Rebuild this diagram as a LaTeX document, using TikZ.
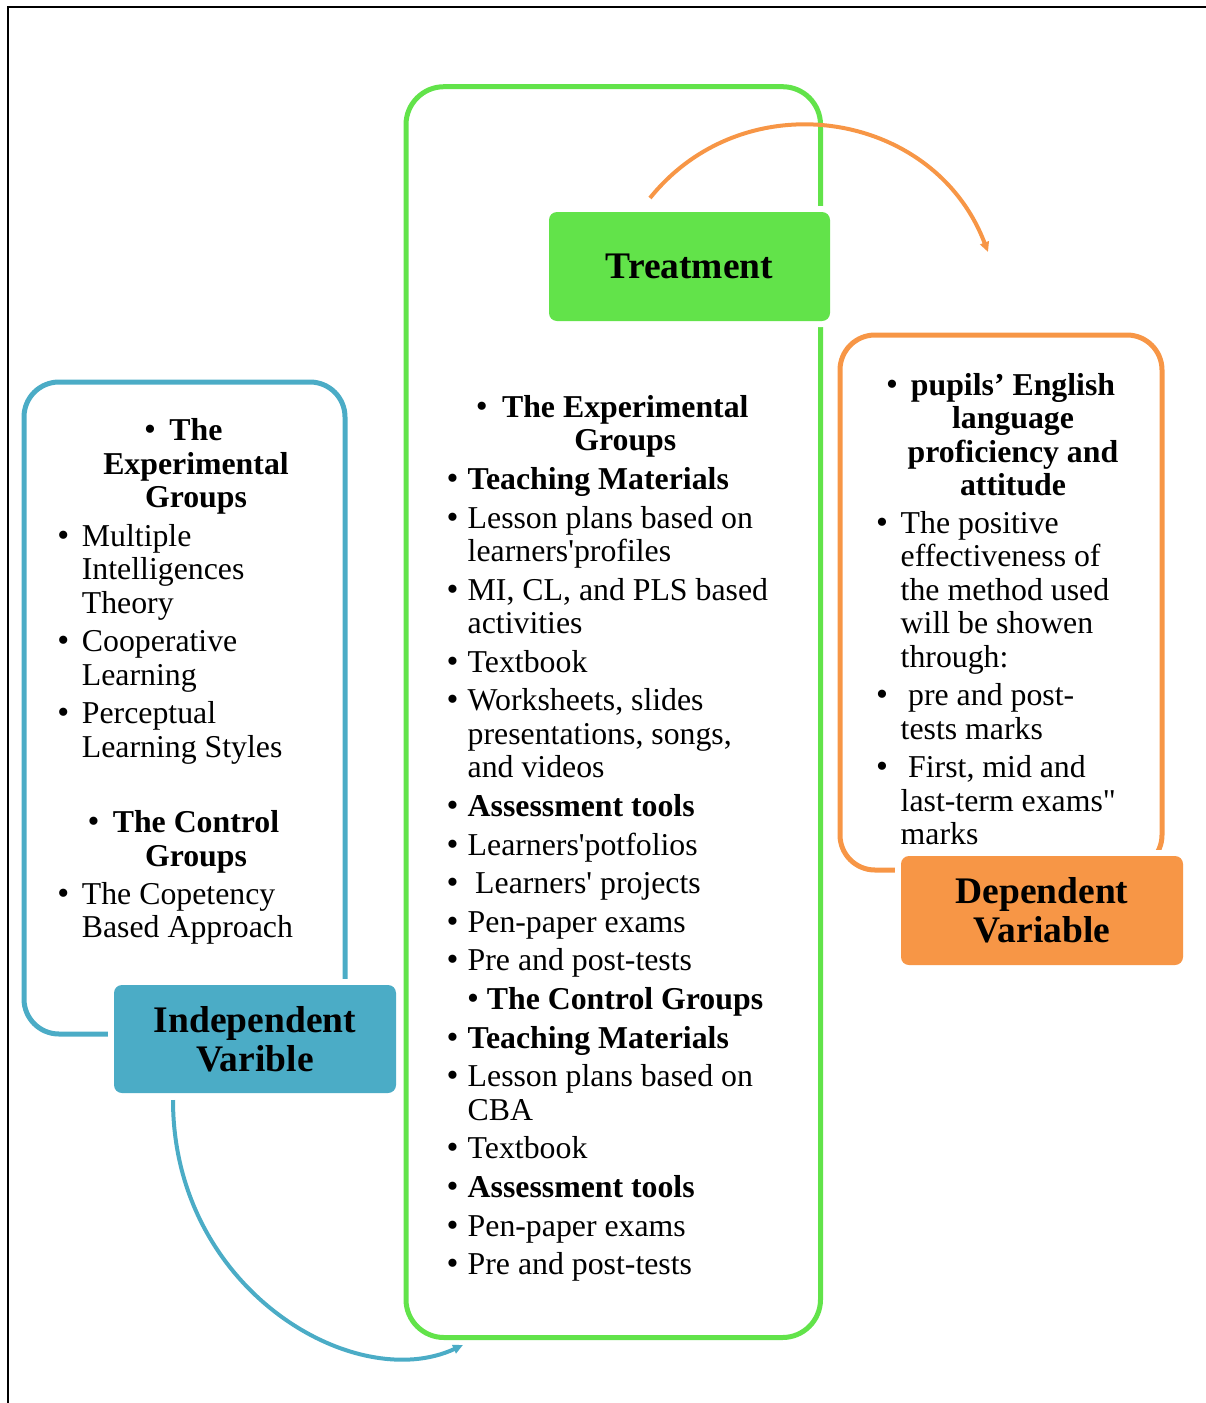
\documentclass[tikz,border=0pt]{standalone}
\usepackage{fontspec}
\setmainfont{Liberation Serif}
\usetikzlibrary{arrows.meta}

\definecolor{grn}{HTML}{62E34A}
\definecolor{blu}{HTML}{4BACC6}
\definecolor{org}{HTML}{F79646}

% left-aligned and centred line stacks; the baseline is that of the first line
\newcommand\rows[1]{\begin{tabular}[t]{@{}l@{}}#1\end{tabular}}
\newcommand\crows[1]{\begin{tabular}[t]{@{}c@{}}#1\end{tabular}}

\begin{document}
\begin{tikzpicture}[x=1pt,y=1pt,
  panel/.style={draw=#1, line width=5pt, inner sep=0pt, outer sep=0pt},
  lbl/.style={fill=#1, rounded corners=8pt, inner sep=0pt, align=center,
    font=\fontsize{37.5}{39}\selectfont\bfseries,
    preaction={draw=white, line width=12pt}},
  body/.style={anchor=base west, inner sep=0pt, font=\fontsize{31.8}{33.5}\selectfont},
  hd/.style={body, font=\fontsize{31.8}{33.5}\selectfont\bfseries},
  hdc/.style={anchor=base, inner sep=0pt, font=\fontsize{31.8}{33.5}\selectfont\bfseries},
  bul/.style={anchor=base, inner sep=0pt, font=\fontsize{34}{33.5}\selectfont},
  link/.style={draw=#1, line width=4pt, -{Triangle[length=10pt,width=9pt]}},
]
\useasboundingbox (0,0) rectangle (1206,-1403);

% page frame
\draw[line width=2pt] (1210,-6.7) -- (8,-6.7) -- (8,-1410);

% group panels
\node[panel=blu, rounded corners=35pt, minimum width=321pt, minimum height=652pt]
  (indep) at (184.5,-708) {};
\node[panel=grn, rounded corners=38pt, minimum width=414.5pt, minimum height=1250.8pt]
  (treat) at (613.25,-712.1) {};
\node[panel=org, rounded corners=35pt, minimum width=322pt, minimum height=535pt]
  (dep) at (1001,-602.5) {};

% title boxes
\node[lbl=grn, minimum width=281pt, minimum height=109pt] (tlab) at (689.5,-266.5) {Treatment};
\node[lbl=blu, minimum width=282pt, minimum height=108pt] (ilab) at (255,-1039) {Independent\\Varible};
\node[lbl=org, minimum width=282pt, minimum height=109pt] (dlab) at (1042,-910.5) {Dependent\\Variable};

% independent variable contents
\node[bul] (lb1) at (150,-440.5) {\textbullet};
\node[hdc] (l1) at (196,-440.5) {\crows{The\\Experimental\\Groups}};
\node[bul] (lb2) at (63.3,-546.1) {\textbullet};
\node[body] (l2) at (81.7,-546.1) {\rows{Multiple\\Intelligences\\Theory}};
\node[bul] (lb3) at (63.3,-651.7) {\textbullet};
\node[body] (l3) at (81.7,-651.7) {\rows{Cooperative\\Learning}};
\node[bul] (lb4) at (63.3,-723.8) {\textbullet};
\node[body] (l4) at (81.7,-723.8) {\rows{Perceptual\\Learning Styles}};
\node[bul] (lb5) at (93.5,-832.5) {\textbullet};
\node[hdc] (l5) at (196,-832.5) {\crows{The Control\\Groups}};
\node[bul] (lb6) at (63.3,-904.1) {\textbullet};
\node[body] (l6) at (81.7,-904.1) {\rows{The Copetency\\Based Approach}};

% treatment contents
\node[bul] (cb1) at (481.7,-417.4) {\textbullet};
\node[hdc] (c1) at (625.3,-417.4) {\crows{The Experimental\\Groups}};
\node[bul] (cb2) at (452.5,-489.5) {\textbullet};
\node[hd] (c2) at (467.5,-489.5) {Teaching Materials};
\node[bul] (cb3) at (452.5,-528.1) {\textbullet};
\node[body] (c3) at (467.5,-528.1) {\rows{Lesson plans based on\\learners\textquotesingle profiles}};
\node[bul] (cb4) at (452.5,-600.2) {\textbullet};
\node[body] (c4) at (467.5,-600.2) {\rows{MI, CL, and PLS based\\activities}};
\node[bul] (cb5) at (452.5,-672.3) {\textbullet};
\node[body] (c5) at (467.5,-672.3) {Textbook};
\node[bul] (cb6) at (452.5,-710.9) {\textbullet};
\node[body] (c6) at (467.5,-710.9) {\rows{Worksheets, slides\\presentations, songs,\\and videos}};
\node[bul] (cb7) at (452.5,-816.5) {\textbullet};
\node[hd] (c7) at (467.5,-816.5) {Assessment tools};
\node[bul] (cb8) at (452.5,-855.1) {\textbullet};
\node[body] (c8) at (467.5,-855.1) {Learners\textquotesingle potfolios};
\node[bul] (cb9) at (452.5,-893.7) {\textbullet};
\node[body] (c9) at (475,-893.7) {Learners\textquotesingle{} projects};
\node[bul] (cb10) at (452.5,-932.3) {\textbullet};
\node[body] (c10) at (467.5,-932.3) {Pen-paper exams};
\node[bul] (cb11) at (452.5,-970.9) {\textbullet};
\node[body] (c11) at (467.5,-970.9) {Pre and post-tests};
\node[bul] (cb12) at (473,-1009.5) {\textbullet};
\node[hdc] (c12) at (625,-1009.5) {The Control Groups};
\node[bul] (cb13) at (452.5,-1048.1) {\textbullet};
\node[hd] (c13) at (467.5,-1048.1) {Teaching Materials};
\node[bul] (cb14) at (452.5,-1086.7) {\textbullet};
\node[body] (c14) at (467.5,-1086.7) {\rows{Lesson plans based on\\CBA}};
\node[bul] (cb15) at (452.5,-1158.8) {\textbullet};
\node[body] (c15) at (467.5,-1158.8) {Textbook};
\node[bul] (cb16) at (452.5,-1197.4) {\textbullet};
\node[hd] (c16) at (467.5,-1197.4) {Assessment tools};
\node[bul] (cb17) at (452.5,-1236) {\textbullet};
\node[body] (c17) at (467.5,-1236) {Pen-paper exams};
\node[bul] (cb18) at (452.5,-1274.6) {\textbullet};
\node[body] (c18) at (467.5,-1274.6) {Pre and post-tests};

% dependent variable contents
\node[bul] (rb1) at (892,-395) {\textbullet};
\node[hdc] (r1) at (1013,-395) {\crows{pupils’ English\\language\\proficiency and\\attitude}};
\node[bul] (rb2) at (882,-533) {\textbullet};
\node[body] (r2) at (900.5,-533) {\rows{The positive\\effectiveness of\\the method used\\will be showen\\through:}};
\node[bul] (rb3) at (882,-705.6) {\textbullet};
\node[body] (r3) at (900.5,-705.6) {\rows{\hspace*{7.5pt}pre and post-\\tests marks}};
\node[bul] (rb4) at (882,-777.6) {\textbullet};
\node[body] (r4) at (900.5,-777.6) {\rows{\hspace*{7.5pt}First, mid and\\last-term exams\textquotedbl\\marks}};

% curved connectors
\coordinate (ta) at (650,-198);
\coordinate (tb) at (988,-252);
\draw[link=org] (ta) .. controls (745,-80) and (934,-110) .. (tb);
\coordinate (ia) at (173,-1100);
\coordinate (ib) at (463,-1345);
\draw[link=blu] (ia) .. controls (173,-1290) and (355,-1395) .. (ib);
\end{tikzpicture}
\end{document}
